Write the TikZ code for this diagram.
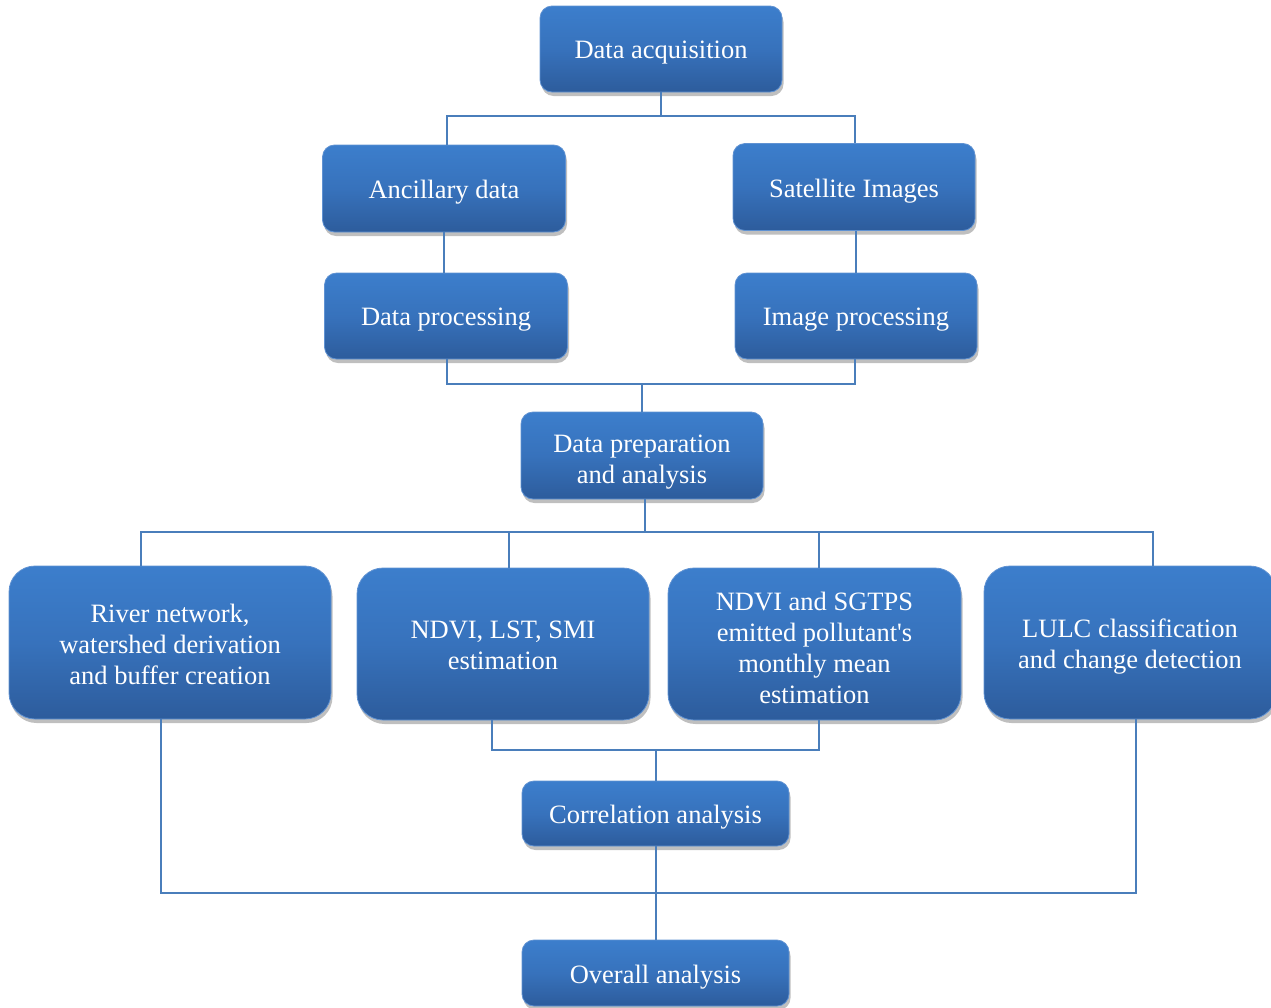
\documentclass[tikz,border=0pt]{standalone}
\usepackage{fontspec}
\setmainfont{Liberation Serif}
\usetikzlibrary{shadows}
\definecolor{btop}{RGB}{60,126,204}
\definecolor{bmid}{RGB}{55,114,188}
\definecolor{bbot}{RGB}{45,92,156}
\definecolor{bedge}{RGB}{96,146,210}
\definecolor{lineblue}{RGB}{74,126,187}
\tikzset{
  box/.style={rounded corners=12pt, top color=btop, bottom color=bbot, middle color=bmid,
    draw=bedge, line width=0.8pt, inner sep=0pt,
    drop shadow={shadow xshift=1.5pt, shadow yshift=-4pt, opacity=0.25, fill=black}},
  bigbox/.style={box, rounded corners=26pt},
  boxtext/.style={text=white, align=center, inner sep=0pt, yshift=-4pt,
    font=\fontsize{26.5}{31}\selectfont},
  conn/.style={draw=lineblue, line width=2pt}
}
\begin{document}
\begin{tikzpicture}[x=1pt,y=-1pt]
\useasboundingbox (0,0) rectangle (1271,1007);
% boxes
\node[box, minimum width=242pt, minimum height=86pt,
  label={[boxtext]center:Data acquisition}] (acq) at (661,49) {};
\node[box, minimum width=243pt, minimum height=87pt,
  label={[boxtext]center:Ancillary data}] (anc) at (444,188.5) {};
\node[box, minimum width=242pt, minimum height=87pt,
  label={[boxtext]center:Satellite Images}] (sat) at (854,187) {};
\node[box, minimum width=243pt, minimum height=86pt,
  label={[boxtext]center:Data processing}] (dproc) at (446,316) {};
\node[box, minimum width=242pt, minimum height=86pt,
  label={[boxtext]center:Image processing}] (iproc) at (856,316) {};
\node[box, minimum width=242pt, minimum height=87pt,
  label={[boxtext, yshift=-3pt]center:{Data preparation\\and analysis}}] (prep) at (642,455.5) {};
\node[bigbox, minimum width=322pt, minimum height=153pt,
  label={[boxtext, yshift=2pt]center:{River network,\\watershed derivation\\and buffer creation}}] (river) at (170,642.5) {};
\node[bigbox, minimum width=292pt, minimum height=152pt,
  label={[boxtext, yshift=3pt]center:{NDVI, LST, SMI\\estimation}}] (ndvi1) at (503,644) {};
\node[bigbox, minimum width=293pt, minimum height=152pt,
  label={[boxtext]center:{NDVI and SGTPS\\emitted pollutant\textquotesingle s\\monthly mean\\estimation}}] (ndvi2) at (814.5,644) {};
\node[bigbox, minimum width=292pt, minimum height=153pt,
  label={[boxtext]center:{LULC classification\\and change detection}}] (lulc) at (1130,642.5) {};
\node[box, minimum width=267pt, minimum height=65pt,
  label={[boxtext]center:Correlation analysis}] (corr) at (655.5,813.5) {};
\node[box, minimum width=267pt, minimum height=66pt,
  label={[boxtext]center:Overall analysis}] (over) at (655.5,973) {};
% junction coordinates
\coordinate (h1L) at (447,116); \coordinate (h1R) at (855,116);
\coordinate (h2L) at (447,384); \coordinate (h2R) at (855,384);
\coordinate (h3L) at (141,532); \coordinate (h3R) at (1153,532);
\coordinate (d2) at (509,532); \coordinate (d3) at (819,532);
\coordinate (h4L) at (492,750); \coordinate (h4R) at (819,750);
\coordinate (h5L) at (161,893); \coordinate (h5R) at (1136,893);
% connectors
\draw[conn] (acq.south) -- (acq.south |- h1L);
\draw[conn] (h1L |- anc.north) -- (h1L) -- (h1R) -- (h1R |- sat.north);
\draw[conn] (anc.south) -- (anc.south |- dproc.north);
\draw[conn] (sat.south -| iproc.north) -- (iproc.north);
\draw[conn] (h2L |- dproc.south) -- (h2L) -- (h2R) -- (h2R |- iproc.south);
\draw[conn] (prep.north |- h2L) -- (prep.north);
\draw[conn] ([xshift=3pt]prep.south) -- ([xshift=3pt]prep.south |- h3L);
\draw[conn] (h3L |- river.north) -- (h3L) -- (h3R) -- (h3R |- lulc.north);
\draw[conn] (d2) -- (d2 |- ndvi1.north);
\draw[conn] (d3) -- (d3 |- ndvi2.north);
\draw[conn] (h4L |- ndvi1.south) -- (h4L) -- (h4R) -- (h4R |- ndvi2.south);
\draw[conn] (corr.north |- h4L) -- (corr.north);
\draw[conn] (h5L |- river.south) -- (h5L) -- (h5R) -- (h5R |- lulc.south);
\draw[conn] (corr.south) -- (over.north);
\end{tikzpicture}
\end{document}
